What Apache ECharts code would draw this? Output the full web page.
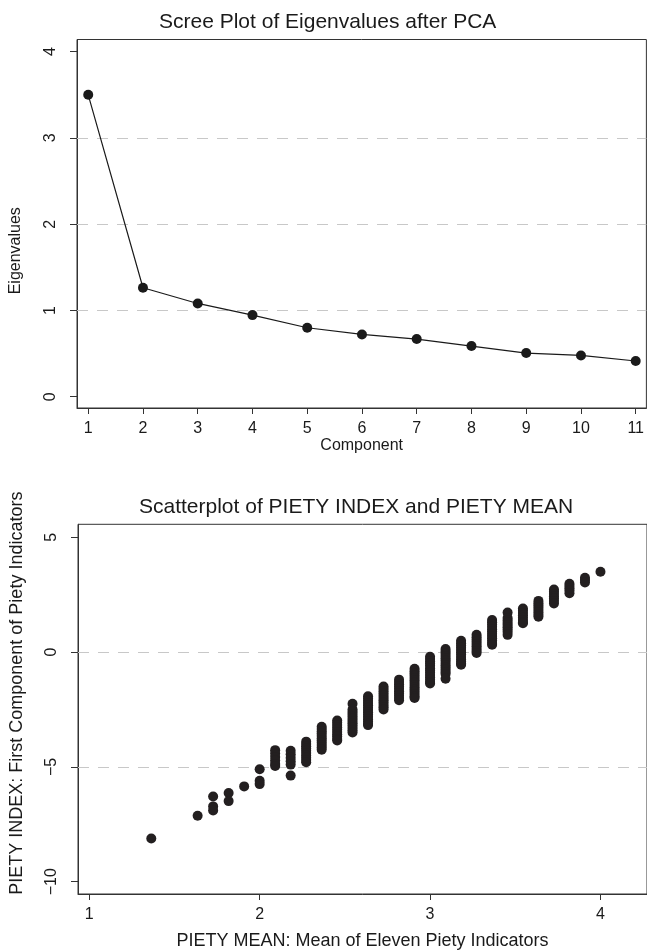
<!DOCTYPE html>
<html><head><meta charset="utf-8">
<script src="https://cdn.jsdelivr.net/npm/echarts@6/dist/echarts.min.js"></script>
<style>html,body{margin:0;padding:0;background:#fff}#c{width:647px;height:952px}</style>
</head><body><div id="c"></div>
<script>
// ---- Scree plot data ----
const components = [1, 2, 3, 4, 5, 6, 7, 8, 9, 10, 11];
const eigenvalues = [3.50, 1.263, 1.081, 0.946, 0.799, 0.722, 0.668, 0.587, 0.506, 0.478, 0.414];
const screeXTicks = [1, 2, 3, 4, 5, 6, 7, 8, 9, 10, 11];
const screeYTicks = [0, 1, 2, 3, 4];
const screeGridValues = [1, 2, 3];

// ---- Scatterplot data: PIETY MEAN (x) and PIETY INDEX values observed at each mean ----
const pietyMean = [1.364, 1.636, 1.727, 1.818, 1.909, 2.000, 2.091, 2.182, 2.273, 2.364,
                   2.455, 2.545, 2.636, 2.727, 2.818, 2.909, 3.000, 3.091, 3.182, 3.273,
                   3.364, 3.455, 3.545, 3.636, 3.727, 3.818, 3.909, 4.000];
const pietyIndex = [
  [-8.12],
  [-7.13],
  [-6.29, -6.72, -6.90],
  [-6.14, -6.49],
  [-5.85],
  [-5.10, -5.60, -5.75],
  [-4.27, -4.42, -4.57, -4.72, -4.87, -4.96],
  [-4.30, -4.45, -4.60, -4.75, -4.90, -5.38],
  [-3.90, -4.00, -4.10, -4.20, -4.30, -4.40, -4.50, -4.60, -4.70, -4.80],
  [-3.25, -3.35, -3.45, -3.55, -3.65, -3.75, -3.85, -3.95, -4.05, -4.15, -4.25],
  [-2.98, -3.08, -3.18, -3.28, -3.38, -3.48, -3.58, -3.68, -3.78, -3.85],
  [-2.25, -2.50, -2.60, -2.70, -2.80, -2.90, -3.00, -3.10, -3.20, -3.30, -3.40, -3.50],
  [-1.92, -2.02, -2.12, -2.22, -2.32, -2.42, -2.52, -2.62, -2.72, -2.82, -2.92, -3.02, -3.12, -3.18],
  [-1.50, -1.60, -1.70, -1.80, -1.90, -2.00, -2.10, -2.20, -2.30, -2.40, -2.50],
  [-1.20, -1.30, -1.40, -1.50, -1.60, -1.70, -1.80, -1.90, -2.00, -2.10],
  [-0.73, -0.83, -0.93, -1.03, -1.13, -1.23, -1.33, -1.43, -1.53, -1.63, -1.73, -1.83, -1.93, -2.00],
  [-0.20, -0.30, -0.40, -0.50, -0.60, -0.70, -0.80, -0.90, -1.00, -1.10, -1.20, -1.30, -1.37],
  [0.13, 0.03, -0.07, -0.17, -0.27, -0.37, -0.47, -0.57, -0.67, -0.77, -0.87, -0.95, -1.16],
  [0.49, 0.39, 0.29, 0.19, 0.09, -0.01, -0.11, -0.21, -0.31, -0.41, -0.50, -0.55],
  [0.75, 0.65, 0.55, 0.45, 0.35, 0.25, 0.15, 0.05, -0.04],
  [1.40, 1.30, 1.20, 1.10, 1.00, 0.90, 0.80, 0.70, 0.60, 0.50, 0.40, 0.32],
  [1.72, 1.48, 1.38, 1.28, 1.18, 1.08, 0.98, 0.88, 0.75],
  [1.90, 1.80, 1.70, 1.60, 1.50, 1.40, 1.30, 1.26],
  [2.23, 2.13, 2.03, 1.93, 1.83, 1.73, 1.63, 1.54],
  [2.73, 2.63, 2.53, 2.43, 2.33, 2.23, 2.12],
  [2.98, 2.88, 2.78, 2.68, 2.56],
  [3.24, 3.14, 3.03],
  [3.50]
];
const scatterXTicks = [1, 2, 3, 4];
const scatterYTicks = [-10, -5, 0, 5];
const scatterGridValues = [0, -5];

const FONT = '"Liberation Sans", Arial, Helvetica, sans-serif';
const INK = '#1a1a1a';
const AXIS = '#333333';
const fmt = v => (v < 0 ? '\u2212' + Math.abs(v) : String(v));

const screeData = components.map((c, i) => [c, eigenvalues[i]]);
const scatterData = [];
pietyMean.forEach((m, i) => pietyIndex[i].forEach(v => scatterData.push([m, v])));

function xAxisCfg(gridIndex, min, max, ticks, name, nameSize, nameGap) {
  return {
    type: 'value', gridIndex, min, max,
    name, nameLocation: 'middle', nameGap,
    nameTextStyle: { fontFamily: FONT, fontSize: nameSize, color: INK },
    axisLine: { show: true, onZero: false, lineStyle: { color: AXIS, width: 1 } },
    axisTick: { show: true, length: 6, customValues: ticks, lineStyle: { color: AXIS } },
    axisLabel: { customValues: ticks, formatter: fmt, margin: 13, fontFamily: FONT, fontSize: 16, color: INK },
    splitLine: { show: false }
  };
}
function yAxisCfg(gridIndex, min, max, ticks, name, nameSize, nameGap, namePad) {
  return {
    type: 'value', gridIndex, min, max,
    name, nameLocation: 'middle', nameGap, nameRotate: 90,
    nameTextStyle: { fontFamily: FONT, fontSize: nameSize, color: INK, padding: namePad },
    axisLine: { show: true, onZero: false, lineStyle: { color: AXIS, width: 1 } },
    axisTick: { show: true, length: 7, customValues: ticks, lineStyle: { color: AXIS } },
    axisLabel: { customValues: ticks, formatter: fmt, rotate: 90, margin: 18, fontFamily: FONT, fontSize: 16, color: INK },
    splitLine: { show: false }
  };
}
const dashStyle = { type: [11, 9], color: '#c8c8c8', width: 1 };

const option = {
  animation: false,
  backgroundColor: '#ffffff',
  title: [
    { text: 'Scree Plot of Eigenvalues after PCA', left: 159, top: 12, padding: 0,
      textStyle: { fontFamily: FONT, fontSize: 21, fontWeight: 'normal', color: INK } },
    { text: 'Scatterplot of PIETY INDEX and PIETY MEAN', left: 139, top: 497, padding: 0,
      textStyle: { fontFamily: FONT, fontSize: 21, fontWeight: 'normal', color: INK } }
  ],
  grid: [
    { left: 76, top: 39.5, width: 572, height: 368.5, show: true, borderColor: AXIS, borderWidth: 1, backgroundColor: 'transparent' },
    { left: 76, top: 524.3, width: 572, height: 369.7, show: true, borderColor: AXIS, borderWidth: 1, backgroundColor: 'transparent' }
  ],
  xAxis: [
    xAxisCfg(0, 0.795, 11.195, screeXTicks, 'Component', 16, 29),
    xAxisCfg(1, 0.934, 4.273, scatterXTicks, 'PIETY MEAN: Mean of Eleven Piety Indicators', 18, 38)
  ],
  yAxis: [
    yAxisCfg(0, -0.131, 4.141, screeYTicks, 'Eigenvalues', 16, 53, [0, 54, 0, 0]),
    yAxisCfg(1, -10.536, 5.566, scatterYTicks, 'PIETY INDEX: First Component of Piety Indicators', 18, 52, [0, 0, 0, 32])
  ],
  series: [
    {
      type: 'line', xAxisIndex: 0, yAxisIndex: 0, z: 10,
      data: screeData,
      symbol: 'circle', symbolSize: 10,
      itemStyle: { color: INK },
      lineStyle: { color: INK, width: 1.2 },
      markLine: {
        silent: true, symbol: 'none', label: { show: false }, z: 1,
        lineStyle: dashStyle,
        data: screeGridValues.map(v => ({ yAxis: v }))
      }
    },
    {
      type: 'scatter', xAxisIndex: 1, yAxisIndex: 1, z: 10,
      data: scatterData,
      symbol: 'circle', symbolSize: 10,
      itemStyle: { color: '#231f20', opacity: 1 },
      markLine: {
        silent: true, symbol: 'none', label: { show: false }, z: 1,
        lineStyle: dashStyle,
        data: scatterGridValues.map(v => ({ yAxis: v }))
      }
    }
  ]
};
const chart = echarts.init(document.getElementById('c'), null, { renderer: 'canvas' });
chart.setOption(option);
</script>
</body></html>
